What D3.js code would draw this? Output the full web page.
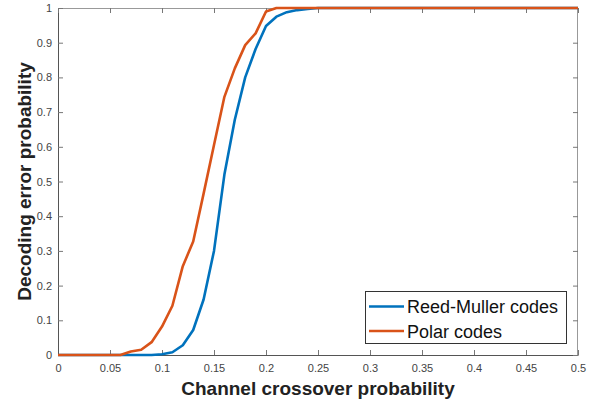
<!DOCTYPE html>
<html><head><meta charset="utf-8">
<script src="https://cdn.jsdelivr.net/npm/d3@7"></script>
<style>html,body{margin:0;padding:0;background:#fff;}svg{display:block;}</style>
</head><body>
<svg id="chart" width="596" height="402"></svg>
<script>
const crossover = [0,0.01,0.02,0.03,0.04,0.05,0.06,0.07,0.08,0.09,0.10,0.11,0.12,0.13,0.14,0.15,0.16,0.17,0.18,0.19,0.20,0.21,0.22,0.23,0.24,0.25,0.26,0.27,0.28,0.29,0.30,0.31,0.32,0.33,0.34,0.35,0.36,0.37,0.38,0.39,0.40,0.41,0.42,0.43,0.44,0.45,0.46,0.47,0.48,0.49,0.50];
const reedMuller = [0,0,0,0,0,0,0,0,0,0,0.002,0.008,0.028,0.072,0.16,0.30,0.52,0.678,0.80,0.882,0.948,0.975,0.988,0.994,0.997,1,1,1,1,1,1,1,1,1,1,1,1,1,1,1,1,1,1,1,1,1,1,1,1,1,1];
const polar = [0,0,0,0,0,0,0,0.01,0.015,0.037,0.082,0.142,0.256,0.327,0.465,0.605,0.744,0.826,0.893,0.927,0.99,1,1,1,1,1,1,1,1,1,1,1,1,1,1,1,1,1,1,1,1,1,1,1,1,1,1,1,1,1,1];
const seriesNames = ["Reed-Muller codes","Polar codes"];
const seriesColors = ["#0072BD","#D95319"];
const xTicks = [0,0.05,0.1,0.15,0.2,0.25,0.3,0.35,0.4,0.45,0.5];
const yTicks = [0,0.1,0.2,0.3,0.4,0.5,0.6,0.7,0.8,0.9,1];
const xLabel = "Channel crossover probability";
const yLabel = "Decoding error probability";

const svg = d3.select("#chart");
const L=58, R=578, T=8, B=355;
const x = d3.scaleLinear().domain([0,0.5]).range([L,R]);
const y = d3.scaleLinear().domain([0,1]).range([B,T]);
const font = "'Liberation Sans', Arial, sans-serif";
const fmt = d => d===0 ? "0" : (d===1 ? "1" : String(d));

// top & right box
svg.append("line").attr("x1",L).attr("x2",R).attr("y1",T+0.5).attr("y2",T+0.5).attr("stroke","#999").attr("stroke-width",1);
svg.append("line").attr("x1",R-0.5).attr("x2",R-0.5).attr("y1",T).attr("y2",B).attr("stroke","#999").attr("stroke-width",1);

// bottom axis
const xAx = svg.append("g").attr("transform",`translate(0,${B})`)
  .call(d3.axisBottom(x).tickValues(xTicks).tickFormat(fmt).tickSizeInner(-5).tickSizeOuter(0).tickPadding(9));
// left axis
const yAx = svg.append("g").attr("transform",`translate(${L},0)`)
  .call(d3.axisLeft(y).tickValues(yTicks).tickFormat(fmt).tickSizeInner(-5).tickSizeOuter(0).tickPadding(6));
// top ticks
svg.append("g").attr("transform",`translate(0,${T})`)
  .call(d3.axisTop(x).tickValues(xTicks).tickFormat("").tickSizeInner(-5).tickSizeOuter(0))
  .call(g=>g.select(".domain").remove());
// right ticks
svg.append("g").attr("transform",`translate(${R},0)`)
  .call(d3.axisRight(y).tickValues(yTicks).tickFormat("").tickSizeInner(-5).tickSizeOuter(0))
  .call(g=>g.select(".domain").remove());

svg.selectAll(".tick line").attr("stroke","#777");
svg.selectAll(".domain").attr("stroke","#555");
svg.selectAll(".tick text").attr("fill","#444").style("font-family",font).style("font-size","11px");

// lines
const line = d3.line().x((d,i)=>x(crossover[i])).y(d=>y(d));
[reedMuller, polar].forEach((s,k)=>{
  svg.append("path").datum(s).attr("d",line).attr("fill","none")
    .attr("stroke",seriesColors[k]).attr("stroke-width",2.6).attr("stroke-linejoin","round");
});

// labels
svg.append("text").attr("x",(L+R)/2).attr("y",395).attr("text-anchor","middle")
  .style("font-family",font).style("font-size","19px").style("font-weight","bold").attr("fill","#222").text(xLabel);
svg.append("text").attr("transform",`translate(31,${(T+B)/2}) rotate(-90)`).attr("text-anchor","middle")
  .style("font-family",font).style("font-size","19px").style("font-weight","bold").attr("fill","#222").text(yLabel);

// legend
const lg = svg.append("g");
lg.append("rect").attr("x",365.5).attr("y",291.5).attr("width",201).attr("height",52)
  .attr("fill","#fff").attr("stroke","#333").attr("stroke-width",1);
seriesNames.forEach((n,i)=>{
  const cy = 306.5 + i*24.5;
  lg.append("line").attr("x1",369).attr("x2",404).attr("y1",cy).attr("y2",cy)
    .attr("stroke",seriesColors[i]).attr("stroke-width",2.6);
  lg.append("text").attr("x",407).attr("y",cy+6.5).style("font-family",font).style("font-size","18px")
    .attr("fill","#111").text(n);
});
</script>
</body></html>
